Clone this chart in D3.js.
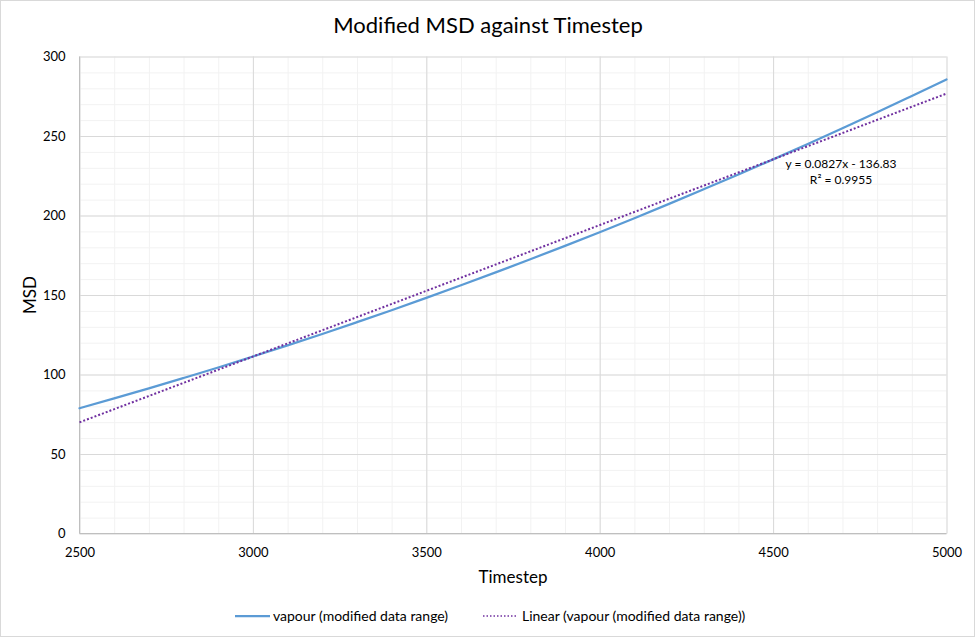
<!DOCTYPE html>
<html>
<head>
<meta charset="utf-8">
<script src="https://cdn.jsdelivr.net/npm/d3@7"></script>
<style>
  html, body { margin: 0; padding: 0; background: #fff; }
  svg { display: block; }
  text { font-family: Lato, "Open Sans", "Liberation Sans", sans-serif; fill: #000; }
</style>
</head>
<body>
<svg id="chart" width="977" height="638"></svg>
<script>
// ---- data ----
const timesteps = [2500, 2600, 2700, 2800, 2900, 3000, 3100, 3200, 3300, 3400, 3500,
                   3600, 3700, 3800, 3900, 4000, 4100, 4200, 4300, 4400, 4500,
                   4600, 4700, 4800, 4900, 5000];
const msdValues = [78.8, 85.0, 91.3, 97.8, 104.4, 111.3, 118.3, 125.5, 132.9, 140.4, 148.2,
                   156.1, 164.2, 172.5, 180.9, 189.5, 198.3, 207.3, 216.5, 225.8, 235.3,
                   245.0, 254.9, 264.9, 275.2, 285.6];
const trendSlope = 0.0827;
const trendIntercept = -136.83;
const trendRange = [2500, 5000];
const xTicks = [2500, 3000, 3500, 4000, 4500, 5000];
const yTicks = [0, 50, 100, 150, 200, 250, 300];
const titleText = "Modified MSD against Timestep";
const xTitle = "Timestep";
const yTitle = "MSD";
const seriesName = "vapour (modified data range)";
const trendName = "Linear (vapour (modified data range))";
const eqLine1 = "y = 0.0827x - 136.83";
const eqLine2 = "R² = 0.9955";

// ---- layout ----
const svg = d3.select("#chart");
const pL = 79.5, pR = 946.5, pT = 56.5, pB = 533.5;
const x = d3.scaleLinear().domain([2500, 5000]).range([pL, pR]);
const y = d3.scaleLinear().domain([0, 300]).range([pB, pT]);

// outer border
svg.append("rect").attr("x", 0.5).attr("y", 0.5).attr("width", 974).attr("height", 636)
  .attr("fill", "#fff").attr("stroke", "#D9D9D9");

// minor gridlines
const g = svg.append("g");
g.append("g").attr("transform", `translate(0,${pB})`)
  .call(d3.axisBottom(x).tickValues(d3.range(2500, 5001, 100)).tickSize(-(pB - pT)).tickFormat(""))
  .call(s => s.select(".domain").remove())
  .call(s => s.selectAll("line").attr("stroke", "#F2F2F2"));
g.append("g").attr("transform", `translate(${pL},0)`)
  .call(d3.axisLeft(y).tickValues(d3.range(0, 301, 10)).tickSize(-(pR - pL)).tickFormat(""))
  .call(s => s.select(".domain").remove())
  .call(s => s.selectAll("line").attr("stroke", "#F2F2F2"));

// major gridlines
g.append("g").attr("transform", `translate(0,${pB})`)
  .call(d3.axisBottom(x).tickValues(xTicks).tickSize(-(pB - pT)).tickFormat(""))
  .call(s => s.select(".domain").remove())
  .call(s => s.selectAll("line").attr("stroke", "#D9D9D9"));
g.append("g").attr("transform", `translate(${pL},0)`)
  .call(d3.axisLeft(y).tickValues(yTicks).tickSize(-(pR - pL)).tickFormat(""))
  .call(s => s.select(".domain").remove())
  .call(s => s.selectAll("line").attr("stroke", "#D9D9D9"));

// axis lines
svg.append("line").attr("x1", pL).attr("x2", pR).attr("y1", pB).attr("y2", pB)
  .attr("stroke", "#BFBFBF");
svg.append("line").attr("x1", pL).attr("x2", pL).attr("y1", pT).attr("y2", pB)
  .attr("stroke", "#BFBFBF");

// tick labels
const xAx = svg.append("g").attr("transform", `translate(0,${pB})`)
  .call(d3.axisBottom(x).tickValues(xTicks).tickSize(0).tickPadding(14).tickFormat(d3.format("d")));
xAx.select(".domain").remove();
xAx.selectAll("text").style("font-family", "Lato, sans-serif").style("font-size", "13px").attr("fill", "#000");

const yAx = svg.append("g").attr("transform", `translate(${pL},0)`)
  .call(d3.axisLeft(y).tickValues(yTicks).tickSize(0).tickPadding(14).tickFormat(d3.format("d")));
yAx.select(".domain").remove();
yAx.selectAll("text").style("font-family", "Lato, sans-serif").style("font-size", "13px").attr("fill", "#000");

// data line
const line = d3.line().x((d, i) => x(timesteps[i])).y(d => y(d)).curve(d3.curveMonotoneX);
svg.append("path").datum(msdValues).attr("d", line)
  .attr("fill", "none").attr("stroke", "#5B9BD5").attr("stroke-width", 2.25).attr("stroke-linecap", "round");

// trendline
const trendPts = trendRange.map(t => [x(t), y(trendSlope * t + trendIntercept)]);
svg.append("path").attr("d", d3.line()(trendPts))
  .attr("fill", "none").attr("stroke", "#7030A0").attr("stroke-width", 2)
  .attr("stroke-dasharray", "2 2");

// equation label
svg.append("text").attr("x", 841).attr("y", 168).attr("text-anchor", "middle")
  .style("font-size", "12px").text(eqLine1);
svg.append("text").attr("x", 841).attr("y", 184).attr("text-anchor", "middle")
  .style("font-size", "12px").text(eqLine2);

// titles
svg.append("text").attr("x", 488).attr("y", 33).attr("text-anchor", "middle")
  .style("font-size", "22px").text(titleText);
svg.append("text").attr("x", 513).attr("y", 583).attr("text-anchor", "middle")
  .style("font-size", "17px").text(xTitle);
svg.append("text").attr("transform", "translate(36,295) rotate(-90)").attr("text-anchor", "middle")
  .style("font-size", "17px").text(yTitle);

// legend
const lg = svg.append("g");
lg.append("line").attr("x1", 235).attr("x2", 270).attr("y1", 616).attr("y2", 616)
  .attr("stroke", "#5B9BD5").attr("stroke-width", 2.25);
lg.append("text").attr("x", 273).attr("y", 621).style("font-size", "14px").text(seriesName);
lg.append("line").attr("x1", 483).attr("x2", 517).attr("y1", 616).attr("y2", 616)
  .attr("stroke", "#7030A0").attr("stroke-width", 1.5).attr("stroke-dasharray", "1.5 2");
lg.append("text").attr("x", 522).attr("y", 621).style("font-size", "14px").text(trendName);
</script>
</body>
</html>
